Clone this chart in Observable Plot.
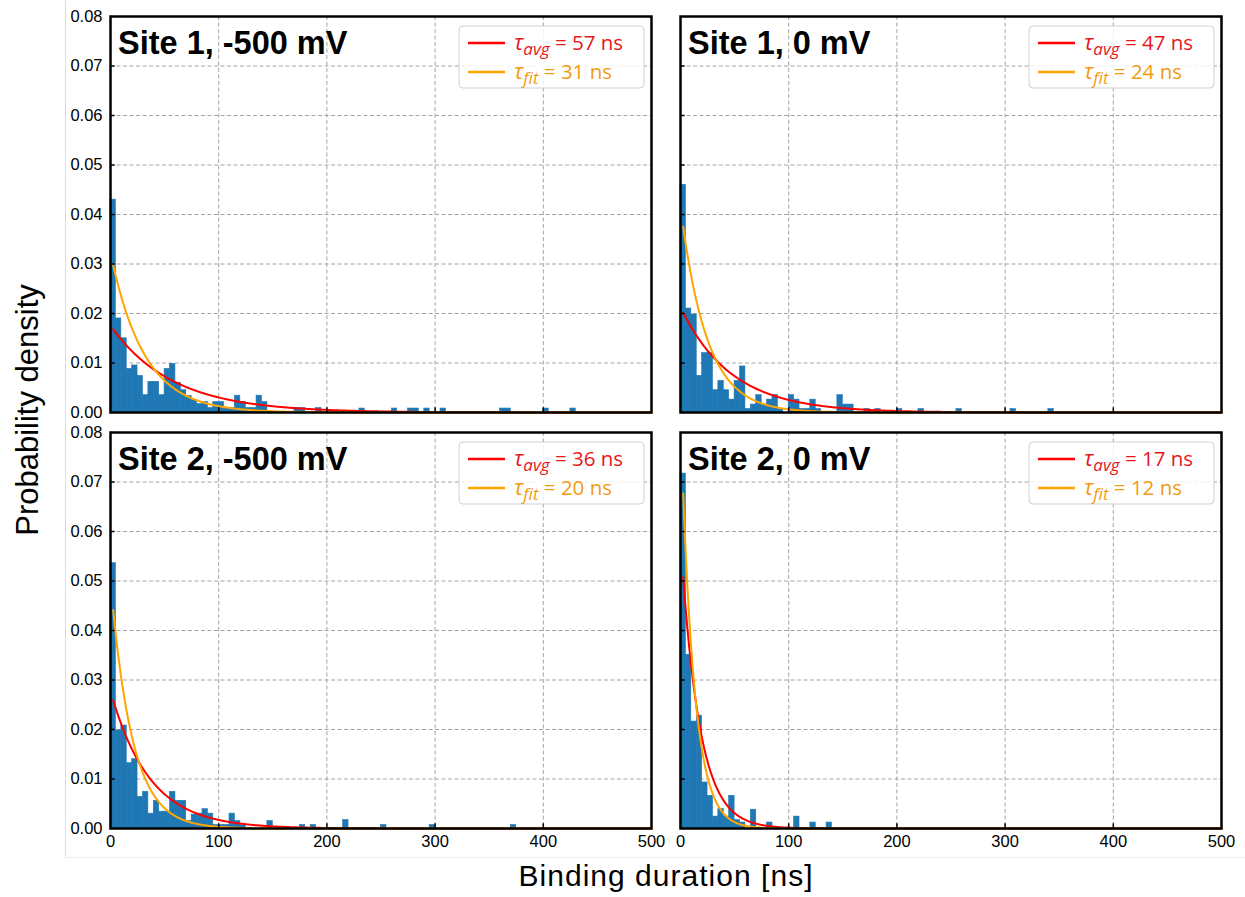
<!DOCTYPE html>
<html><head><meta charset="utf-8">
<script src="https://cdn.jsdelivr.net/npm/d3@7"></script>
<script src="https://cdn.jsdelivr.net/npm/@observablehq/plot@0.6"></script>
<style>
body{margin:0;background:#fff;}
#wrap{position:relative;width:1245px;height:897px;overflow:hidden;background:#fff;}
#wrap svg{position:absolute;max-width:none;}
</style></head><body><div id="wrap"></div>
<script>
// ---- data (probability density per 5 ns bin, starting at 0 ns) ----
const binWidth = 5;
const site1_m500 = [0.043,0.019,0.015,0.0088,0.0095,0.0074,0.0035,0.0062,0.0062,0.0035,
  0.0088,0.0098,0.006,0.0045,0.0033,0.0025,0.0017,0.0021,0.0009,0.0021,
  0.0021,0.0009,0.0009,0.0034,0.0021,0.0009,0.0009,0.0034,0.0021,0,
  0,0,0,0,0.0009,0.0009,0,0,0.0009,0,
  0,0,0,0,0,0,0.0008,0,0,0,
  0,0,0.0008,0,0,0.0008,0.0008,0,0.0008,0,
  0,0.0008,0,0,0,0,0,0,0,0,
  0,0,0.0008,0.0008,0,0,0,0,0,0,
  0.0008,0,0,0,0,0.0008];
const site1_0 = [0.046,0.021,0.0198,0.0074,0.012,0.012,0.0045,0.0064,0.0045,0.0026,
  0.0064,0.0093,0.0007,0.0016,0.0035,0.0016,0.0026,0.0035,0.0007,0,
  0.0035,0.0026,0.0007,0.0007,0.0026,0.0007,0,0,0,0.0035,
  0.0016,0.0016,0,0,0.0007,0,0.0007,0,0,0,
  0.0007,0,0,0,0.0007,0,0,0,0,0,
  0,0.0007,0,0,0,0,0,0,0,0,
  0,0.0007,0,0,0,0,0,0,0.0007];
const site2_m500 = [0.0536,0.0198,0.0208,0.0132,0.014,0.0064,0.0074,0.003,0.0056,0.0034,
  0.0034,0.0074,0.0056,0.0056,0.0015,0.0028,0.003,0.0039,0.003,0.0007,
  0.0007,0.0007,0.003,0.0015,0.0007,0,0,0,0,0.0015,
  0,0,0,0,0,0.0007,0,0.0007,0,0,
  0,0,0,0.0017,0,0,0,0,0,0,
  0.0007,0,0,0,0,0,0,0,0,0.0007,
  0,0,0,0,0,0,0,0,0,0,
  0,0,0,0,0.0007];
const site2_0 = [0.0717,0.0351,0.0216,0.0228,0.0093,0.0066,0.0024,0.0039,0.0024,0.0066,
  0.0017,0.0012,0,0.0038,0,0,0.0012,0,0,0,
  0,0.0024,0,0,0.0012,0,0,0.0012];
const titles = ["Site 1, -500 mV","Site 1, 0 mV","Site 2, -500 mV","Site 2, 0 mV"];
const tauAvg = [57, 47, 36, 17];
const tauFit = [31, 24, 20, 12];
const xTicks = [0,100,200,300,400,500];
const yTicks = [0,0.01,0.02,0.03,0.04,0.05,0.06,0.07,0.08];

// ---- layout ----
const wrap = document.getElementById("wrap");
const FW = 541, FH = 396;
const ML = 50, MR = 10, MT = 10, MB = 32;
const panels = [
  {dens: site1_m500, left: 110, top: 16, showX: false, showY: true},
  {dens: site1_0,    left: 680, top: 16, showX: false, showY: false},
  {dens: site2_m500, left: 110, top: 432, showX: true, showY: true},
  {dens: site2_0,    left: 680, top: 432, showX: true, showY: false}
];
const gridStyle = {stroke: "#a4a4a4", strokeOpacity: 1, strokeWidth: 1, strokeDasharray: "4,2.5"};

panels.forEach((p, k) => {
  const bars = p.dens.map((v, i) => ({x1: i * binWidth, x2: (i + 1) * binWidth, y: v})).filter(d => d.y > 0);
  const ts = d3.range(2.5, 500.001, 0.5);
  const avg = ts.map(t => ({t, y: Math.exp(-t / tauAvg[k]) / tauAvg[k]}));
  const fit = ts.map(t => ({t, y: Math.exp(-t / tauFit[k]) / tauFit[k]}));
  const marks = [
    Plot.gridX(xTicks.slice(1, -1), gridStyle),
    Plot.gridY(yTicks.slice(1, -1), gridStyle),
    Plot.rectY(bars, {x1: "x1", x2: "x2", y: "y", fill: "#1f77b4", stroke: "#1f77b4", strokeWidth: 0.6}),
    Plot.line(avg, {x: "t", y: "y", stroke: "red", strokeWidth: 2}),
    Plot.line(fit, {x: "t", y: "y", stroke: "orange", strokeWidth: 2}),
    Plot.ruleX(xTicks.slice(1, -1), {y1: 0, y2: 0.00095, stroke: "black", strokeWidth: 1.5}),
    Plot.ruleY(yTicks.slice(1, -1), {x1: 0, x2: 4.3, stroke: "black", strokeWidth: 1.5}),
    Plot.frame({stroke: "black", strokeWidth: 2.5})
  ];
  if (p.showX) marks.push(Plot.axisX(xTicks, {tickSize: 0, tickPadding: 7, label: null, tickFormat: d => String(d)}));
  if (p.showY) marks.push(Plot.axisY(yTicks, {tickSize: 0, tickPadding: 8, label: null, tickFormat: d3.format(".2f")}));
  const svg = Plot.plot({
    width: FW + ML + MR, height: FH + MT + MB,
    marginLeft: ML, marginRight: MR, marginTop: MT, marginBottom: MB,
    x: {domain: [0, 500], axis: null},
    y: {domain: [0, 0.08], axis: null},
    style: {background: "transparent", fontSize: "16.5px", fontFamily: "'Liberation Sans', Arial, sans-serif", color: "black", overflow: "visible"},
    marks
  });
  svg.style.left = (p.left - ML) + "px";
  svg.style.top = (p.top - MT) + "px";
  wrap.appendChild(svg);
});

// ---- overlay: titles, legends, axis labels ----
const ov = d3.select(wrap).append("svg")
  .attr("width", 1245).attr("height", 897)
  .style("left", "0px").style("top", "0px");
ov.append("line").attr("x1", 65.5).attr("x2", 65.5).attr("y1", 0).attr("y2", 858)
  .attr("stroke", "#dddddd").attr("stroke-width", 1);
ov.append("line").attr("x1", 65).attr("x2", 1245).attr("y1", 857.5).attr("y2", 857.5)
  .attr("stroke", "#eeeeee").attr("stroke-width", 1);

panels.forEach((p, k) => {
  ov.append("text").attr("x", p.left + 8).attr("y", p.top + 38)
    .attr("font-family", "'Liberation Sans', Arial, sans-serif").attr("font-weight", "bold")
    .attr("font-size", 32.5).attr("fill", "black").text(titles[k]);
  const bx = p.left + FW - 192, by = p.top + 10;
  const g = ov.append("g");
  g.append("rect").attr("x", bx).attr("y", by).attr("width", 185).attr("height", 62).attr("rx", 4)
    .attr("fill", "white").attr("fill-opacity", 0.85).attr("stroke", "#cfcfcf").attr("stroke-width", 1);
  const rows = [
    {c: "red", tc: "#e8161c", sub: "avg", val: tauAvg[k], y: 17},
    {c: "orange", tc: "#f39a10", sub: "fit", val: tauFit[k], y: 46}
  ];
  rows.forEach(r => {
    g.append("line").attr("x1", bx + 9).attr("x2", bx + 46).attr("y1", by + r.y).attr("y2", by + r.y)
      .attr("stroke", r.c).attr("stroke-width", 2.5);
    const t = g.append("text").attr("x", bx + 55).attr("y", by + r.y + 6.5)
      .attr("font-family", "'Open Sans', Lato, sans-serif").attr("font-size", 20.5).attr("fill", r.tc);
    t.append("tspan").attr("font-style", "italic").attr("font-size", 22).text("τ");
    t.append("tspan").attr("font-style", "italic").attr("font-size", 17).attr("dy", 5).text(r.sub);
    t.append("tspan").attr("dy", -5).text(" = " + r.val + " ns");
  });
});

ov.append("text").attr("x", 665.5).attr("y", 886).attr("text-anchor", "middle")
  .attr("font-family", "'Liberation Sans', Arial, sans-serif").attr("font-size", 30)
  .attr("textLength", 294).attr("lengthAdjust", "spacing")
  .attr("fill", "black").text("Binding duration [ns]");
ov.append("text").attr("transform", "translate(37.5,410) rotate(-90)").attr("text-anchor", "middle")
  .attr("font-family", "'Liberation Sans', Arial, sans-serif").attr("font-size", 31)
  .attr("fill", "black").text("Probability density");
</script></body></html>
